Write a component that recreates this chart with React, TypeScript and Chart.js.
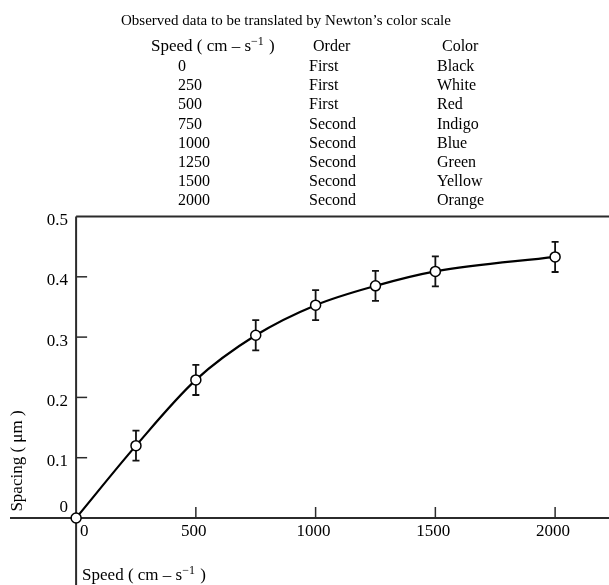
import React, { useEffect, useRef } from "react";
import { Chart, registerables } from "chart.js";

Chart.register(...registerables);

// ---- data ----
const speeds = [0, 250, 500, 750, 1000, 1250, 1500, 2000];
const spacing = [0, 0.12, 0.229, 0.303, 0.353, 0.385, 0.409, 0.433];
const spacingErr = [0, 0.025, 0.025, 0.025, 0.025, 0.025, 0.025, 0.025];
const orders = ["First", "First", "First", "Second", "Second", "Second", "Second", "Second"];
const colorNames = ["Black", "White", "Red", "Indigo", "Blue", "Green", "Yellow", "Orange"];
const xTickValues = [0, 500, 1000, 1500, 2000];
const yTickValues = [0, 0.1, 0.2, 0.3, 0.4, 0.5];
const yTickLabels = ["0", "0.1", "0.2", "0.3", "0.4", "0.5"];
const tableTitle = "Observed data to be translated by Newton\u2019s color scale";
const orderHeader = "Order";
const colorHeader = "Color";
const yTitle = "Spacing ( \u03bcm )";

const SERIF = '"Liberation Serif", "Times New Roman", serif';
const INK = "#000";

type Seg = { t: string; sup?: boolean };
const speedLabel: Seg[] = [{ t: "Speed ( cm \u2013 s" }, { t: "\u22121", sup: true }, { t: " )" }];

function drawRich(ctx: CanvasRenderingContext2D, x: number, y: number, segs: Seg[], size: number) {
  let cx = x;
  for (const s of segs) {
    const sz = s.sup ? Math.round(size * 0.7) : size;
    ctx.font = `${sz}px ${SERIF}`;
    ctx.fillText(s.t, cx, s.sup ? y - size * 0.38 : y);
    cx += ctx.measureText(s.t).width + (s.sup ? 1 : 0);
  }
}

const figurePlugin = {
  id: "figurePlugin",
  beforeDatasetsDraw(chart: any) {
    const { ctx, chartArea, scales } = chart;
    const xs = scales.x;
    const ys = scales.y;
    const x0 = xs.getPixelForValue(0);
    const y0 = ys.getPixelForValue(0);
    const yTop = ys.getPixelForValue(0.5);
    ctx.save();
    ctx.strokeStyle = "#2b2b2b";
    ctx.lineWidth = 2;
    // top rule / frame line
    ctx.beginPath();
    ctx.moveTo(x0, yTop);
    ctx.lineTo(chartArea.right, yTop);
    ctx.stroke();
    // y axis
    ctx.beginPath();
    ctx.moveTo(x0, yTop);
    ctx.lineTo(x0, chartArea.bottom);
    ctx.stroke();
    // x axis
    ctx.beginPath();
    ctx.moveTo(chartArea.left, y0);
    ctx.lineTo(chartArea.right, y0);
    ctx.stroke();
    // tick marks (inward)
    ctx.lineWidth = 1.5;
    for (const v of yTickValues) {
      if (v === 0 || v === 0.5) continue;
      const py = ys.getPixelForValue(v);
      ctx.beginPath();
      ctx.moveTo(x0, py);
      ctx.lineTo(x0 + 11, py);
      ctx.stroke();
    }
    for (const v of xTickValues) {
      if (v === 0) continue;
      const px = xs.getPixelForValue(v);
      ctx.beginPath();
      ctx.moveTo(px, y0);
      ctx.lineTo(px, y0 - 11);
      ctx.stroke();
    }
    // error bars
    ctx.strokeStyle = "#111";
    ctx.lineWidth = 1.8;
    for (let i = 0; i < speeds.length; i++) {
      const e = spacingErr[i];
      if (!e) continue;
      const px = xs.getPixelForValue(speeds[i]);
      const pHi = ys.getPixelForValue(spacing[i] + e);
      const pLo = ys.getPixelForValue(spacing[i] - e);
      ctx.beginPath();
      ctx.moveTo(px, pHi);
      ctx.lineTo(px, pLo);
      ctx.moveTo(px - 3.5, pHi);
      ctx.lineTo(px + 3.5, pHi);
      ctx.moveTo(px - 3.5, pLo);
      ctx.lineTo(px + 3.5, pLo);
      ctx.stroke();
    }
    ctx.restore();
  },
  afterDraw(chart: any) {
    const { ctx, scales } = chart;
    const xs = scales.x;
    const ys = scales.y;
    const x0 = xs.getPixelForValue(0);
    const y0 = ys.getPixelForValue(0);
    ctx.save();
    ctx.fillStyle = INK;
    ctx.textBaseline = "alphabetic";
    // table
    ctx.textAlign = "left";
    ctx.font = `15px ${SERIF}`;
    ctx.fillText(tableTitle, 121, 25);
    drawRich(ctx, 151, 51, speedLabel, 17);
    ctx.font = `16px ${SERIF}`;
    ctx.fillText(orderHeader, 313, 51);
    ctx.fillText(colorHeader, 442, 51);
    for (let i = 0; i < speeds.length; i++) {
      const by = 71 + i * 19.2;
      ctx.fillText(String(speeds[i]), 178, by);
      ctx.fillText(orders[i], 309, by);
      ctx.fillText(colorNames[i], 437, by);
    }
    // y tick labels
    ctx.font = `17px ${SERIF}`;
    ctx.textAlign = "right";
    ctx.textBaseline = "middle";
    for (let i = 0; i < yTickValues.length; i++) {
      const v = yTickValues[i];
      const py = ys.getPixelForValue(v) + (v === 0 ? -10 : 4);
      ctx.fillText(yTickLabels[i], x0 - 8, py);
    }
    // x tick labels
    for (const v of xTickValues) {
      const px = xs.getPixelForValue(v);
      if (v === 0) {
        ctx.textAlign = "left";
        ctx.fillText("0", px + 4, y0 + 14);
      } else {
        ctx.textAlign = "center";
        ctx.fillText(String(v), px - 2, y0 + 14);
      }
    }
    // axis titles
    ctx.textAlign = "left";
    ctx.textBaseline = "alphabetic";
    drawRich(ctx, x0 + 6, 580, speedLabel, 17);
    ctx.save();
    ctx.translate(22, 461);
    ctx.rotate(-Math.PI / 2);
    ctx.textAlign = "center";
    ctx.font = `17px ${SERIF}`;
    ctx.fillText(yTitle, 0, 0);
    ctx.restore();
    ctx.restore();
  },
};

export default function App() {
  const ref = useRef<HTMLCanvasElement | null>(null);
  useEffect(() => {
    if (!ref.current) return;
    const chart = new Chart(ref.current, {
      type: "scatter",
      data: {
        datasets: [
          {
            data: speeds.map((s, i) => ({ x: s, y: spacing[i] })),
            showLine: true,
            cubicInterpolationMode: "monotone",
            borderColor: "#000",
            borderWidth: 2.2,
            pointRadius: 5,
            pointBackgroundColor: "#fff",
            pointBorderColor: "#000",
            pointBorderWidth: 1.5,
            clip: false,
          } as any,
        ],
      },
      options: {
        animation: false,
        responsive: false,
        devicePixelRatio: 1,
        layout: { autoPadding: false, padding: { left: 10, right: 0, top: 215, bottom: 0 } },
        scales: {
          x: { type: "linear", min: -276, max: 2225, display: false },
          y: { type: "linear", min: -0.1111, max: 0.5025, display: false },
        },
        plugins: { legend: { display: false }, tooltip: { enabled: false } },
      },
      plugins: [figurePlugin],
    });
    return () => chart.destroy();
  }, []);
  return (
    <div style={{ position: "absolute", left: 0, top: 0, width: 609, height: 585, background: "#fff" }}>
      <canvas ref={ref} width={609} height={585} style={{ width: 609, height: 585, display: "block" }} />
    </div>
  );
}
